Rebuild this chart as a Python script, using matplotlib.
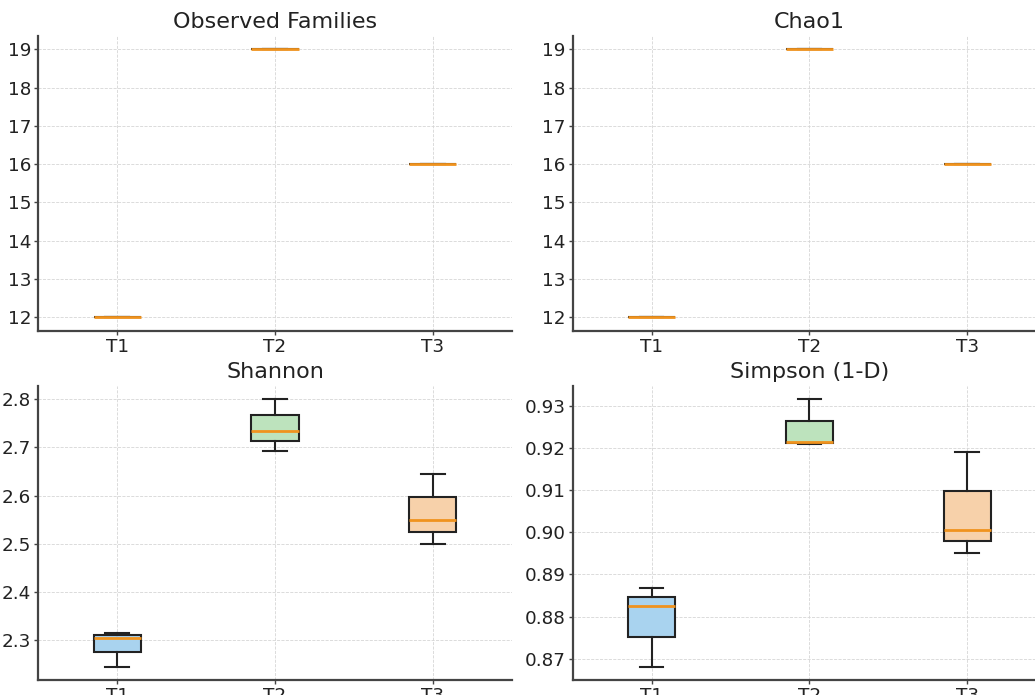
import matplotlib.pyplot as plt

groups = ["T1", "T2", "T3"]

# three replicates per treatment
observed = {"T1": [12, 12, 12], "T2": [19, 19, 19], "T3": [16, 16, 16]}
chao1 = {"T1": [12, 12, 12], "T2": [19, 19, 19], "T3": [16, 16, 16]}
shannon = {
    "T1": [2.244, 2.304, 2.314],
    "T2": [2.693, 2.735, 2.800],
    "T3": [2.499, 2.548, 2.644],
}
simpson = {
    "T1": [0.8681, 0.8824, 0.8867],
    "T2": [0.9209, 0.9214, 0.9316],
    "T3": [0.8952, 0.9005, 0.9192],
}

box_colors = ["#a9d3ef", "#bde3bd", "#f7d1aa"]

panels = [
    ("Observed Families", observed, [0.037, 0.5242, 0.4574, 0.424]),
    ("Chao1", chao1, [0.5533, 0.5242, 0.4574, 0.424]),
    ("Shannon", shannon, [0.037, 0.0216, 0.4574, 0.423]),
    ("Simpson (1-D)", simpson, [0.5533, 0.0216, 0.4574, 0.423]),
]

plt.rcParams["font.family"] = "DejaVu Sans"
fig = plt.figure(figsize=(10.35, 6.95), dpi=100)

for title, metric, rect in panels:
    ax = fig.add_axes(rect)
    bp = ax.boxplot(
        [metric[g] for g in groups],
        tick_labels=groups,
        patch_artist=True,
        boxprops=dict(linewidth=1.5, edgecolor="#222222"),
        whiskerprops=dict(linewidth=1.5, color="#222222"),
        capprops=dict(linewidth=1.5, color="#222222"),
        medianprops=dict(linewidth=2.0, color="#f0931e"),
    )
    for patch, color in zip(bp["boxes"], box_colors):
        patch.set_facecolor(color)
    ax.set_title(title, fontsize=16, color="#222222", pad=6)
    ax.grid(True, linestyle="--", linewidth=0.6, color="#d6d6d6")
    ax.set_axisbelow(True)
    for side in ["top", "right"]:
        ax.spines[side].set_visible(False)
    for side in ["left", "bottom"]:
        ax.spines[side].set_linewidth(1.6)
        ax.spines[side].set_color("#444444")
    ax.tick_params(labelsize=13.2, length=3, width=1, pad=2, colors="#444444",
                   labelcolor="#222222")

fig.savefig("out.png", dpi=100)
